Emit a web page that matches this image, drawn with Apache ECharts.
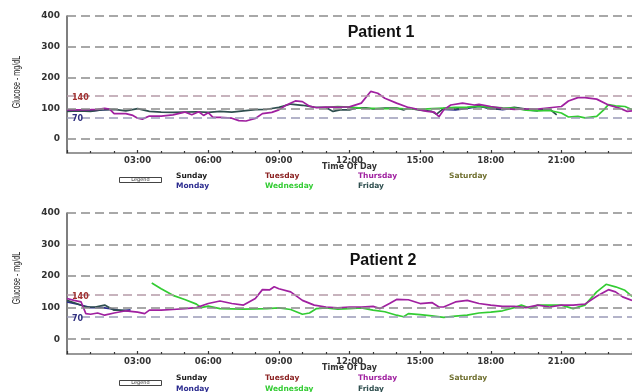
<!DOCTYPE html>
<html><head><meta charset="utf-8">
<script src="https://cdn.jsdelivr.net/npm/echarts@6/dist/echarts.min.js"></script>
<style>html,body{margin:0;padding:0;background:#fff}#c{width:632px;height:392px}</style>
</head><body><div id="c"></div>
<script>
// ---- data ----
const yTickValues = [0, 100, 200, 300, 400];
const targetHigh = 140;
const targetLow = 70;
const days = ['Sunday', 'Monday', 'Tuesday', 'Wednesday', 'Thursday', 'Friday', 'Saturday'];
const dayColors = ['#1a1a1a', '#2b2b8f', '#8b2222', '#33cc33', '#a020a0', '#2f4f4f', '#707030'];
const chartTitles = ['Patient 1', 'Patient 2'];
const yTitle = 'Glucose - mg/dL';
const xTitle = 'Time Of Day';

// Patient 1 (hour of day, mg/dL)
const p1Thursday = [[0,95],[0.5,95],[1,96],[1.3,97],[1.6,100],[1.8,98],[2,83],[2.5,83],[2.8,77],[3,68],[3.2,65],[3.5,75],[4,75],[4.5,79],[5,88],[5.3,79],[5.6,89],[5.8,77],[6,86],[6.2,71],[6.5,71],[7,68],[7.3,60],[7.6,59],[8,67],[8.3,83],[8.7,87],[9,95],[9.3,110],[9.7,124],[10,122],[10.3,107],[10.6,102],[11,104],[11.5,104],[12,105],[12.5,117],[12.9,155],[13.2,149],[13.5,133],[14,117],[14.5,103],[15,95],[15.3,90],[15.6,88],[15.8,73],[16,95],[16.3,111],[16.8,117],[17.3,111],[17.5,113],[18,106],[18.5,100],[19,97],[19.5,98],[20,98],[20.5,102],[21,106],[21.3,124],[21.7,135],[22,135],[22.5,130],[23,111],[23.5,100],[23.8,90],[24,92]];
const p1Wednesday = [[11,103],[11.5,106],[12,104],[12.5,101],[13,100],[13.5,99],[14,100],[14.5,98],[15,97],[15.5,99],[16,101],[16.5,103],[17,104],[17.5,106],[18,104],[18.5,102],[19,101],[19.5,94],[20,92],[20.5,93],[21,85],[21.3,72],[21.7,74],[22,69],[22.5,74],[22.8,95],[23,112],[23.3,108],[23.7,106],[24,96]];
const p1Friday = [[0,90],[0.5,92],[1,90],[1.5,96],[2,97],[2.5,92],[3,99],[3.5,90],[4,88],[4.5,87],[5,88],[5.5,89],[6,87],[6.5,90],[7,88],[7.5,92],[8,96],[8.5,97],[9,103],[9.5,114],[10,110],[10.5,104],[11,103],[11.3,90],[11.6,95],[12,95],[12.3,101],[12.7,102],[13,98],[13.5,101],[14,101],[14.3,95],[14.5,101],[15,94],[15.5,90],[15.7,81],[16,100],[16.5,98],[17,102],[17.5,109],[18,98],[18.5,98],[19,103],[19.5,98],[20,94],[20.5,98],[20.8,79]];
const p1Monday = [[0,93],[0.5,94],[1,92],[1.5,95],[1.8,97],[1.9,null],[16,97],[16.5,95],[17,100],[17.5,106],[18,100],[18.5,96],[19,101],[19.5,96],[20,92]];

// Patient 2
const p2Thursday = [[0,129],[0.3,123],[0.6,118],[0.8,81],[1,79],[1.3,83],[1.6,76],[2,83],[2.5,90],[3,86],[3.3,81],[3.5,92],[4,92],[4.5,94],[5,97],[5.5,100],[6,113],[6.5,121],[7,113],[7.5,108],[8,129],[8.3,157],[8.6,156],[8.8,166],[9,160],[9.5,150],[10,123],[10.5,108],[11,102],[11.5,99],[12,102],[12.5,102],[13,104],[13.3,97],[13.7,113],[14,126],[14.5,125],[15,113],[15.5,116],[15.8,102],[16,102],[16.5,118],[17,123],[17.5,113],[18,108],[18.5,104],[19,104],[19.5,100],[20,108],[20.5,102],[21,108],[21.5,108],[22,111],[22.5,136],[23,157],[23.3,150],[23.6,134],[24,123]];
const p2Wednesday = [[3.6,178],[4,160],[4.5,139],[5,126],[5.5,111],[5.7,100],[6,105],[6.5,97],[7,96],[7.5,95],[8,96],[8.5,97],[9,99],[9.5,94],[10,79],[10.3,83],[10.6,97],[11,99],[11.5,95],[12,97],[12.5,99],[13,92],[13.5,87],[14,76],[14.3,71],[14.5,81],[15,78],[15.5,74],[16,69],[16.5,73],[17,76],[17.5,83],[18,86],[18.5,90],[19,100],[19.3,108],[19.7,97],[20,108],[20.5,108],[21,108],[21.5,97],[22,108],[22.5,150],[22.9,174],[23.3,166],[23.7,155],[24,136]];
const p2Friday = [[0,123],[0.4,113],[0.8,102],[1.2,102],[1.6,108],[2,92],[2.3,92],[2.6,90]];
const p2Monday = [[0,118],[0.5,110],[1,100],[1.5,100],[2,95],[2.3,90],[2.7,93]];

const chartSeries = [
  [['Monday', p1Monday], ['Friday', p1Friday], ['Wednesday', p1Wednesday], ['Thursday', p1Thursday]],
  [['Monday', p2Monday], ['Friday', p2Friday], ['Wednesday', p2Wednesday], ['Thursday', p2Thursday]]
];

// ---- layout ----
const layouts = [
  { top: 16, height: 137, min: -45, titleX: 381, titleY: 33, yTitleY: 82, legRow1: 176, legRow2: 186, legBox: 180 },
  { top: 213, height: 141, min: -47, titleX: 383, titleY: 261, yTitleY: 278, legRow1: 378, legRow2: 389, legBox: 383 }
];
const legendCols = [176, 265, 358, 449];
const gridLeft = 67, gridWidth = 568;
const fontBold = 'DejaVu Sans';

const colorOf = d => dayColors[days.indexOf(d)];
const pad = v => (v < 10 ? '0' : '') + v + ':00';

const grids = [], xAxes = [], yAxes = [], series = [];
layouts.forEach((L, i) => {
  grids.push({ left: gridLeft, top: L.top, width: gridWidth, height: L.height });
  xAxes.push({
    type: 'value', gridIndex: i, min: 0, max: 24, interval: 3,
    axisLine: { show: true, onZero: false, lineStyle: { color: '#777', width: 1.5 } },
    axisTick: { show: true, inside: true, length: 3, lineStyle: { color: '#333', width: 1.2 } },
    minorTick: { show: true, splitNumber: 3, length: 2, lineStyle: { color: '#333', width: 1.2 } },
    splitLine: { show: false }, minorSplitLine: { show: false },
    axisLabel: { formatter: pad, showMinLabel: false, showMaxLabel: false, margin: 3,
      fontFamily: fontBold, fontWeight: 'bold', fontSize: 8.5, color: '#333' },
    name: xTitle, nameLocation: 'middle', nameGap: 10, nameMoveOverlap: false,
    nameTextStyle: { fontFamily: fontBold, fontWeight: 'bold', fontSize: 8, color: '#333' }
  });
  yAxes.push({
    type: 'value', gridIndex: i, min: L.min, max: 400,
    axisLine: { show: true, onZero: false, lineStyle: { color: '#555', width: 1.5 } },
    axisTick: { show: false },
    splitLine: { show: false },
    axisLabel: { customValues: yTickValues, margin: 7,
      fontFamily: fontBold, fontWeight: 'bold', fontSize: 9, color: '#333' }
  });
  const ml = yTickValues.map(v => ({ yAxis: v, lineStyle: { color: '#8c8c8c' } }));
  ml.push({ yAxis: targetHigh, lineStyle: { color: '#b59aa8' } });
  ml.push({ yAxis: targetLow, lineStyle: { color: '#9a9ab8' } });
  series.push({
    type: 'line', xAxisIndex: i, yAxisIndex: i, data: [], z: 1, silent: true,
    markLine: { symbol: 'none', silent: true, label: { show: false },
      lineStyle: { type: [9, 5], width: 1.5 }, data: ml, animation: false }
  });
  chartSeries[i].forEach(([day, data]) => {
    series.push({
      type: 'line', name: day, xAxisIndex: i, yAxisIndex: i, data: data,
      showSymbol: false, symbol: 'none', connectNulls: false, z: 3,
      lineStyle: { color: colorOf(day), width: 1.7 }, itemStyle: { color: colorOf(day) }
    });
  });
});

const chart = echarts.init(document.getElementById('c'), null, { renderer: 'canvas' });
chart.setOption({ animation: false, backgroundColor: '#fff', grid: grids, xAxis: xAxes, yAxis: yAxes, series: series });

const graphics = [];
layouts.forEach((L, i) => {
  graphics.push({ type: 'text', x: L.titleX, y: L.titleY,
    style: { text: chartTitles[i], font: 'bold 16px "Liberation Sans", Arial', fill: '#111', align: 'center', verticalAlign: 'middle' } });
  graphics.push({ type: 'text', x: 17, y: L.yTitleY, rotation: Math.PI / 2, scaleX: 0.68,
    style: { text: yTitle, font: '10.5px "Liberation Sans", Arial', fill: '#222', align: 'center', verticalAlign: 'middle' } });
  const pHigh = chart.convertToPixel({ gridIndex: i }, [0, targetHigh]);
  const pLow = chart.convertToPixel({ gridIndex: i }, [0, targetLow]);
  graphics.push({ type: 'text', x: pHigh[0] + 5, y: pHigh[1] + 1.5, z: 5,
    style: { text: String(targetHigh), font: 'bold 8px "DejaVu Sans"', fill: '#a03030', align: 'left', verticalAlign: 'middle' } });
  graphics.push({ type: 'text', x: pLow[0] + 5, y: pLow[1] + 1.5, z: 5,
    style: { text: String(targetLow), font: 'bold 8px "DejaVu Sans"', fill: '#303080', align: 'left', verticalAlign: 'middle' } });
  graphics.push({ type: 'rect', shape: { x: 119.5, y: L.legBox - 2.5, width: 42, height: 5 },
    style: { fill: '#fff', stroke: '#444', lineWidth: 1 } });
  graphics.push({ type: 'text', x: 140.5, y: L.legBox, z: 5,
    style: { text: 'Legend', font: '5px "DejaVu Sans"', fill: '#333', align: 'center', verticalAlign: 'middle' } });
  days.forEach((d, k) => {
    const col = Math.floor(k / 2), row = k % 2;
    graphics.push({ type: 'text', x: legendCols[col], y: row === 0 ? L.legRow1 : L.legRow2,
      style: { text: d, font: 'bold 7.5px "DejaVu Sans"', fill: dayColors[k], align: 'left', verticalAlign: 'middle' } });
  });
});
chart.setOption({ graphic: graphics });
</script>
</body></html>
